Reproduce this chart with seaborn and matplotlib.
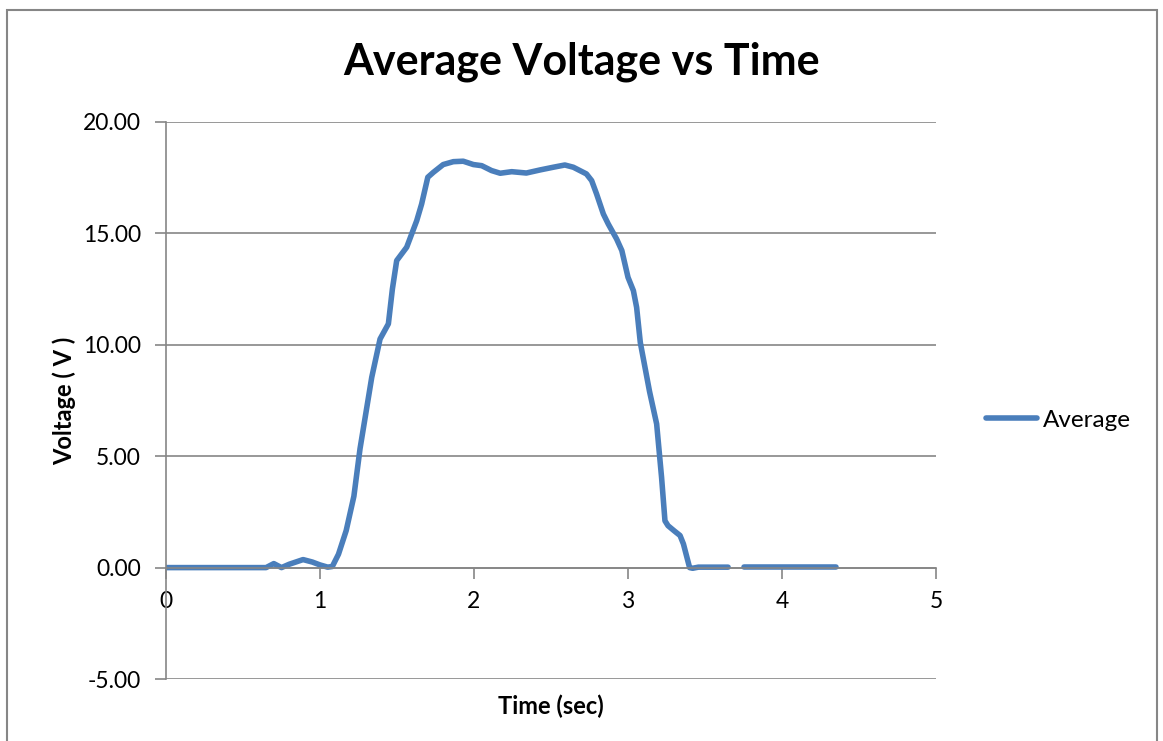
import numpy as np
import pandas as pd
import matplotlib
matplotlib.use("Agg")
import matplotlib.pyplot as plt
from matplotlib.lines import Line2D
from matplotlib.patches import Rectangle
import seaborn as sns

# ---- data ----
time_s = [0.00, 0.60, 0.65, 0.70, 0.75, 0.80, 0.89, 0.95, 1.00, 1.05, 1.08, 1.12, 1.17, 1.22,
          1.26, 1.336, 1.39, 1.444, 1.47, 1.498, 1.563, 1.628, 1.66, 1.70, 1.736, 1.80,
          1.866, 1.93, 1.996, 2.05, 2.114, 2.17, 2.245, 2.34, 2.43, 2.515, 2.59, 2.645,
          2.73, 2.764, 2.796, 2.84, 2.872, 2.926, 2.96, 3.00, 3.035, 3.056, 3.08, 3.14,
          3.186, 3.218, 3.24, 3.26, 3.30, 3.338, 3.36, 3.40, 3.42, 3.457, 3.55, 3.65,
          3.70, 3.75, 4.00, 4.35]
voltage = [0.00, 0.00, 0.00, 0.18, 0.00, 0.15, 0.36, 0.25, 0.12, 0.02, 0.05, 0.60, 1.66, 3.20,
           5.34, 8.54, 10.26, 10.94, 12.50, 13.78, 14.38, 15.57, 16.32, 17.52, 17.74, 18.09,
           18.22, 18.24, 18.09, 18.04, 17.82, 17.70, 17.77, 17.71, 17.85, 17.97, 18.07, 17.97,
           17.67, 17.37, 16.77, 15.87, 15.42, 14.75, 14.23, 13.03, 12.43, 11.68, 10.10, 7.90,
           6.45, 4.05, 2.10, 1.88, 1.65, 1.44, 1.06, 0.00, -0.03, 0.02, 0.02, 0.02,
           np.nan, 0.02, 0.02, 0.02]

x_ticks = [0, 1, 2, 3, 4, 5]
y_ticks = [-5, 0, 5, 10, 15, 20]
y_tick_labels = ["-5.00", "0.00", "5.00", "10.00", "15.00", "20.00"]

title = "Average Voltage vs Time"
x_label = "Time (sec)"
y_label = "Voltage ( V )"
series_name = "Average"

# ---- build table; split into segments at missing values ----
df = pd.DataFrame({"t": time_s, "v": voltage})
df["seg"] = df["v"].isna().cumsum()
df = df.dropna()

sns.set_style("white")
plt.rcParams["font.family"] = ["Lato", "DejaVu Sans"]
plt.rcParams["text.color"] = "black"
plt.rcParams["axes.labelcolor"] = "black"
plt.rcParams["xtick.labelcolor"] = "black"
plt.rcParams["ytick.labelcolor"] = "black"

fig = plt.figure(figsize=(11.63, 7.41), dpi=100)
ax = fig.add_axes([166/1163, 1-679/741, (936-166)/1163, (679-122)/741])

line_color = "#4A7EBB"
grid_color = "#868686"

for i, (seg, sub) in enumerate(df.groupby("seg")):
    sns.lineplot(data=sub, x="t", y="v", ax=ax, color=line_color, lw=4.0,
                 solid_capstyle="round", solid_joinstyle="round", estimator=None, sort=False)

ax.set_xlim(0, 5)
ax.set_ylim(-5, 20)
ax.set_xticks(x_ticks)
ax.set_xticklabels([str(v) for v in x_ticks])
ax.set_yticks(y_ticks)
ax.set_yticklabels(y_tick_labels)

ax.yaxis.grid(True, color=grid_color, lw=1.2)
ax.xaxis.grid(False)
ax.set_axisbelow(True)

for s in ["top", "right"]:
    ax.spines[s].set_visible(False)
ax.spines["left"].set_color(grid_color)
ax.spines["left"].set_linewidth(1.2)
ax.spines["bottom"].set_position(("data", 0))
ax.spines["bottom"].set_color(grid_color)
ax.spines["bottom"].set_linewidth(1.2)

ax.tick_params(axis="x", direction="out", length=8, width=1.2, color=grid_color,
               labelsize=16.5, pad=9, bottom=True)
ax.tick_params(axis="y", direction="out", length=8, width=1.2, color=grid_color,
               labelsize=16.5, pad=10, left=True)

ax.set_xlabel(x_label, fontsize=17, fontweight="bold", labelpad=0)
ax.xaxis.set_label_coords(0.5, -0.027)
ax.set_ylabel(y_label, fontsize=17, fontweight="bold", labelpad=14)
ax.yaxis.set_label_coords(-0.117, 0.5)

fig.text(582/1163, 1-62/741, title, ha="center", va="center", fontsize=31, fontweight="bold")

handle = Line2D([0], [0], color=line_color, lw=4.0, solid_capstyle="round")
leg = ax.legend([handle], [series_name], loc="center left",
                frameon=False, fontsize=17.5, handlelength=2.1, handletextpad=0.25)
leg.set_bbox_to_anchor((964/1163, 1-420/741), transform=fig.transFigure)

fig.patches.append(Rectangle((7/1163, -0.02), (1157-7)/1163, 1-10/741+0.02,
                             transform=fig.transFigure, fill=False, edgecolor=grid_color,
                             lw=1.5))

fig.savefig("out.png", dpi=100)
